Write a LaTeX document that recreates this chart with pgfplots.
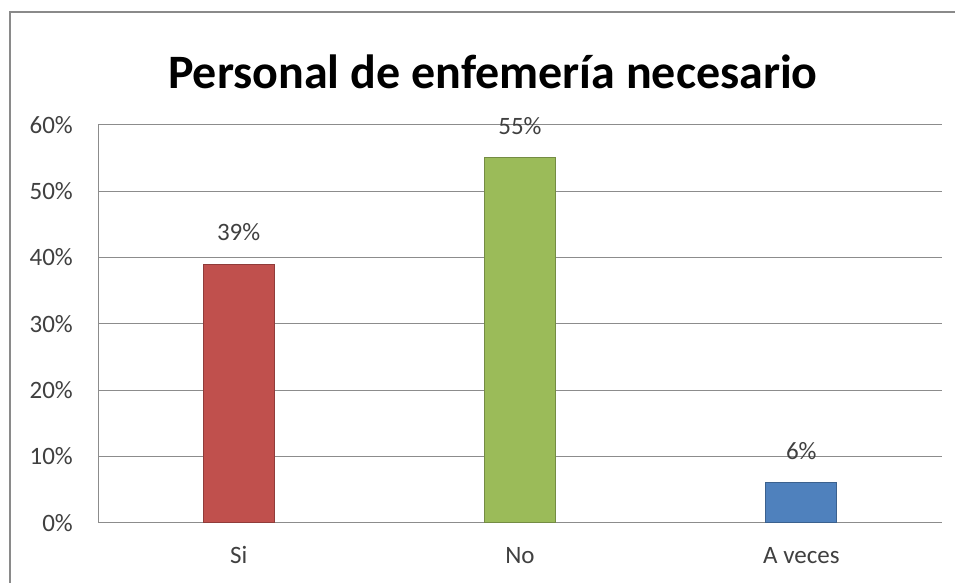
\documentclass[border=0pt]{standalone}
\usepackage{fontspec}
\setmainfont{Carlito}
\usepackage{pgfplots}
\pgfplotsset{compat=1.18}
\definecolor{axgray}{HTML}{8C8C8C}
\definecolor{framegray}{HTML}{8A8A8A}
\definecolor{txtgray}{HTML}{404040}
\definecolor{barred}{HTML}{C0504D}
\definecolor{bargreen}{HTML}{9BBB59}
\definecolor{barblue}{HTML}{4F81BD}
\begin{document}
\begin{tikzpicture}[x=1pt,y=1pt]
\useasboundingbox (0pt,0pt) rectangle (955pt,583pt);
\draw[color=framegray, line width=1.8pt] (10pt,-20pt) -- (10pt,571pt) -- (990pt,571pt);
\node[font=\bfseries\fontsize{48}{54}\selectfont, text=black] at (493pt,511pt) {Personal de enfemería necesario};
\begin{axis}[
  at={(98pt,60.3pt)}, anchor=south west, scale only axis,
  width=844pt, height=398pt,
  xmin=-0.5, xmax=2.5, ymin=0, ymax=60,
  ytick={0,10,...,60}, xtick={0,1,2}, xticklabels={Si,No,A veces},
  axis x line*=bottom, axis y line*=left,
  ymajorgrids, grid style={axgray, line width=0.9pt},
  axis line style={axgray, line width=0.9pt},
  major tick length=0pt,
  tick label style={font=\fontsize{25}{29}\selectfont, text=txtgray, inner sep=0pt},
  x tick label style={anchor=base, yshift=-41pt},
  y tick label style={anchor=east, xshift=-25pt},
  yticklabel={\pgfmathprintnumber{\tick}\%},
  /pgf/number format/assume math mode=true,
  ybar, bar width=71pt, bar shift=0pt,
  nodes near coords={\pgfmathprintnumber{\pgfplotspointmeta}\%},
  nodes near coords style={font=\fontsize{25}{29}\selectfont, text=txtgray, anchor=base, inner sep=0pt, yshift=23pt},
]
\addplot[fill=barred, draw=barred!75!black, line width=0.8pt] coordinates {(0,39)};
\addplot[fill=bargreen, draw=bargreen!75!black, line width=0.8pt] coordinates {(1,55)};
\addplot[fill=barblue, draw=barblue!75!black, line width=0.8pt] coordinates {(2,6)};
\end{axis}
\end{tikzpicture}
\end{document}
